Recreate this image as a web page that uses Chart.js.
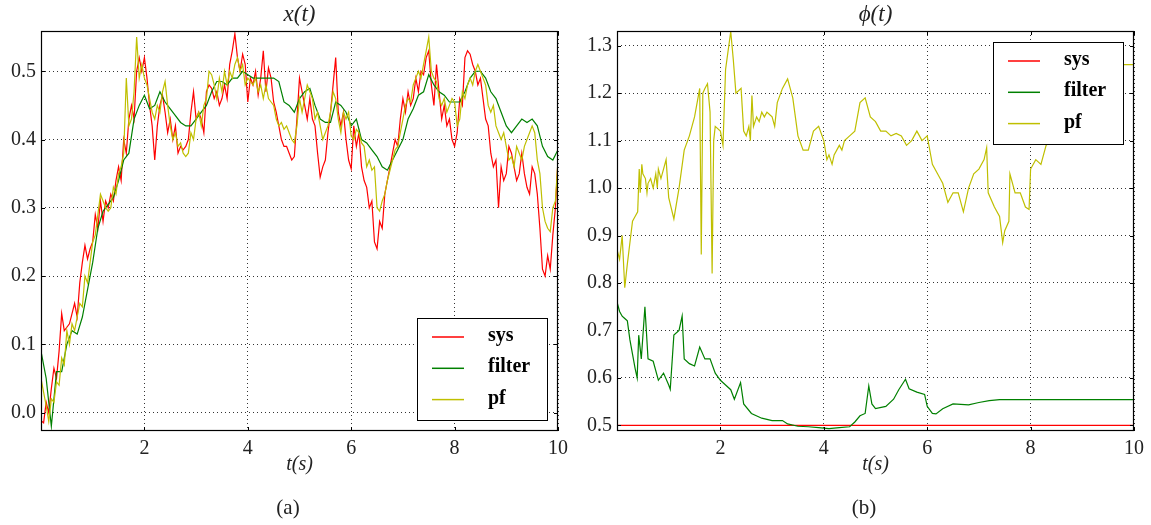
<!DOCTYPE html>
<html>
<head>
<meta charset="utf-8">
<script src="https://cdn.jsdelivr.net/npm/chart.js@4.4.0/dist/chart.umd.min.js"></script>
<style>
  body { margin: 0; background: #fff; }
  #wrap { position: relative; width: 1151px; height: 525px; }
  canvas { position: absolute; top: 0; }
</style>
</head>
<body>
<div id="wrap">
  <canvas id="chartA" width="575" height="525" style="left:0px"></canvas>
  <canvas id="chartB" width="575" height="525" style="left:576px"></canvas>
</div>
<script>
// ---- data: panel (a) x(t); sys and pf every 0.05 s, filter every 0.1 s ----
const sysX = [-0.012, -0.015, 0.015, 0.0, 0.035, 0.065, 0.05, 0.09, 0.145, 0.12,
  0.125, 0.13, 0.145, 0.16, 0.14, 0.19, 0.22, 0.245, 0.225, 0.24,
  0.25, 0.29, 0.27, 0.31, 0.28, 0.31, 0.30, 0.32, 0.31, 0.34,
  0.36, 0.34, 0.40, 0.38, 0.43, 0.45, 0.43, 0.50, 0.52, 0.50,
  0.52, 0.49, 0.45, 0.42, 0.37, 0.42, 0.45, 0.465, 0.44, 0.41,
  0.43, 0.40, 0.42, 0.38, 0.39, 0.385, 0.39, 0.40, 0.44, 0.47,
  0.43, 0.44, 0.43, 0.41, 0.47, 0.48, 0.475, 0.46, 0.47, 0.45,
  0.46, 0.48, 0.46, 0.51, 0.53, 0.555, 0.52, 0.50, 0.525, 0.51,
  0.455, 0.49, 0.48, 0.50, 0.465, 0.49, 0.53, 0.47, 0.505, 0.49,
  0.455, 0.44, 0.42, 0.40, 0.39, 0.39, 0.38, 0.37, 0.375, 0.43,
  0.49, 0.47, 0.45, 0.43, 0.46, 0.43, 0.42, 0.38, 0.345, 0.36,
  0.37, 0.41, 0.44, 0.48, 0.52, 0.44, 0.42, 0.44, 0.40, 0.37,
  0.357, 0.42, 0.39, 0.41, 0.36, 0.34, 0.33, 0.30, 0.31, 0.25,
  0.24, 0.28, 0.27, 0.32, 0.34, 0.36, 0.38, 0.40, 0.39, 0.43,
  0.46, 0.44, 0.47, 0.45, 0.46, 0.49, 0.47, 0.50, 0.495, 0.52,
  0.53, 0.48, 0.45, 0.51, 0.47, 0.43, 0.45, 0.42, 0.43, 0.40,
  0.39, 0.41, 0.46, 0.45, 0.52, 0.53, 0.525, 0.51, 0.50, 0.48,
  0.49, 0.46, 0.43, 0.42, 0.38, 0.36, 0.37, 0.30, 0.36, 0.34,
  0.35, 0.39, 0.38, 0.36, 0.34, 0.35, 0.38, 0.35, 0.33, 0.32,
  0.36, 0.35, 0.32, 0.27, 0.21, 0.20, 0.23, 0.21, 0.26, 0.30,
  0.37];
const pfX = [0.05, 0.03, 0.01, -0.013, 0.02, 0.015, 0.045, 0.04, 0.08, 0.07,
  0.12, 0.10, 0.13, 0.12, 0.14, 0.16, 0.155, 0.20, 0.19, 0.22,
  0.25, 0.26, 0.29, 0.32, 0.31, 0.30, 0.295, 0.30, 0.33, 0.32,
  0.35, 0.36, 0.38, 0.49, 0.42, 0.43, 0.47, 0.55, 0.49, 0.51,
  0.49, 0.48, 0.46, 0.44, 0.43, 0.45, 0.44, 0.47, 0.485, 0.45,
  0.42, 0.40, 0.41, 0.39, 0.395, 0.38, 0.375, 0.38, 0.41, 0.40,
  0.43, 0.44, 0.42, 0.45, 0.46, 0.50, 0.495, 0.48, 0.46, 0.49,
  0.47, 0.50, 0.48, 0.50, 0.49, 0.51, 0.52, 0.50, 0.51, 0.48,
  0.49, 0.485, 0.48, 0.49, 0.47, 0.48, 0.46, 0.48, 0.46, 0.455,
  0.45, 0.43, 0.42, 0.425, 0.415, 0.42, 0.41, 0.40, 0.395, 0.42,
  0.46, 0.44, 0.46, 0.48, 0.47, 0.46, 0.43, 0.44, 0.42, 0.40,
  0.41, 0.42, 0.44, 0.47, 0.46, 0.43, 0.41, 0.44, 0.43, 0.44,
  0.405, 0.40, 0.415, 0.41, 0.395, 0.39, 0.36, 0.37, 0.355, 0.36,
  0.30, 0.295, 0.31, 0.32, 0.34, 0.355, 0.37, 0.385, 0.39, 0.41,
  0.43, 0.45, 0.46, 0.455, 0.48, 0.49, 0.50, 0.49, 0.51, 0.53,
  0.55, 0.50, 0.49, 0.485, 0.46, 0.45, 0.46, 0.44, 0.45, 0.46,
  0.455, 0.42, 0.43, 0.47, 0.46, 0.48, 0.49, 0.48, 0.50, 0.51,
  0.50, 0.49, 0.48, 0.45, 0.44, 0.45, 0.42, 0.41, 0.40, 0.41,
  0.39, 0.37, 0.375, 0.36, 0.39, 0.38, 0.37, 0.39, 0.40, 0.41,
  0.42, 0.41, 0.37, 0.35, 0.30, 0.28, 0.27, 0.265, 0.30, 0.31,
  0.37];
const filterX = [0.09, 0.05, -0.02, 0.06, 0.06, 0.10, 0.12, 0.115, 0.14, 0.18,
  0.22, 0.27, 0.295, 0.305, 0.315, 0.34, 0.37, 0.38, 0.43, 0.45,
  0.465, 0.445, 0.45, 0.47, 0.455, 0.445, 0.435, 0.425, 0.42, 0.42,
  0.43, 0.44, 0.45, 0.47, 0.485, 0.485, 0.48, 0.49, 0.49, 0.50,
  0.495, 0.49, 0.49, 0.49, 0.49, 0.49, 0.485, 0.455, 0.45, 0.44,
  0.46, 0.47, 0.475, 0.45, 0.43, 0.425, 0.425, 0.455, 0.45, 0.44,
  0.42, 0.43, 0.40, 0.395, 0.385, 0.375, 0.36, 0.355, 0.37, 0.385,
  0.40, 0.43, 0.445, 0.465, 0.47, 0.495, 0.48, 0.47, 0.465, 0.455,
  0.455, 0.455, 0.47, 0.49, 0.50, 0.50, 0.49, 0.47, 0.46, 0.44,
  0.42, 0.41, 0.42, 0.43, 0.425, 0.43, 0.42, 0.39, 0.375, 0.37,
  0.385];
const tFine = sysX.map((_, i) => i / 20);
const tCoarse = filterX.map((_, i) => i / 10);

// ---- data: panel (b) phi(t) ----
const tSysPhi = [0, 10];
const sysPhi = [0.5, 0.5];

const tFilterPhi = [0, 0.05, 0.1, 0.15, 0.2, 0.25, 0.3, 0.35, 0.39, 0.42,
  0.47, 0.54, 0.6, 0.7, 0.8, 0.9, 1.0, 1.03, 1.1, 1.2,
  1.26, 1.3, 1.4, 1.5, 1.6, 1.7, 1.8, 1.9, 2.0, 2.1,
  2.2, 2.27, 2.39, 2.45, 2.6, 2.8, 3.0, 3.2, 3.3, 3.5,
  3.7, 3.9, 4.1, 4.3, 4.5, 4.6, 4.7, 4.8, 4.87, 4.93,
  5.0, 5.2, 5.35, 5.45, 5.58, 5.65, 5.8, 5.95, 6.0, 6.1,
  6.17, 6.3, 6.5, 6.8, 7.0, 7.2, 7.4, 10.0];
const filterPhi = [0.76, 0.74, 0.73, 0.725, 0.72, 0.68, 0.65, 0.62, 0.60, 0.69,
  0.64, 0.75, 0.64, 0.635, 0.595, 0.61, 0.585, 0.576, 0.69, 0.70,
  0.73, 0.64, 0.63, 0.625, 0.665, 0.64, 0.64, 0.61, 0.595, 0.585,
  0.575, 0.555, 0.59, 0.545, 0.525, 0.515, 0.51, 0.51, 0.503, 0.498,
  0.497, 0.495, 0.493, 0.495, 0.497, 0.507, 0.52, 0.525, 0.583, 0.545,
  0.535, 0.54, 0.555, 0.575, 0.597, 0.577, 0.57, 0.565, 0.54, 0.525,
  0.524, 0.535, 0.545, 0.543, 0.548, 0.552, 0.554, 0.554];

const tPfPhi = [0, 0.05, 0.1, 0.15, 0.2, 0.3, 0.35, 0.4, 0.43, 0.45,
  0.48, 0.5, 0.55, 0.58, 0.6, 0.65, 0.7, 0.75, 0.78, 0.8,
  0.85, 0.9, 0.95, 1.0, 1.1, 1.2, 1.3, 1.4, 1.5, 1.6,
  1.63, 1.66, 1.7, 1.75, 1.8, 1.84, 1.87, 1.9, 2.0, 2.05,
  2.1, 2.2, 2.25, 2.3, 2.4, 2.45, 2.5, 2.55, 2.58, 2.61,
  2.64, 2.7, 2.75, 2.8, 2.85, 2.9, 2.95, 3.0, 3.05, 3.1,
  3.2, 3.3, 3.4, 3.5, 3.6, 3.7, 3.8, 3.9, 4.0, 4.06,
  4.1, 4.16, 4.2, 4.3, 4.35, 4.4, 4.5, 4.6, 4.7, 4.8,
  4.9, 5.0, 5.1, 5.2, 5.3, 5.4, 5.5, 5.6, 5.7, 5.8,
  5.9, 6.0, 6.1, 6.2, 6.3, 6.4, 6.5, 6.6, 6.7, 6.8,
  6.9, 7.0, 7.1, 7.15, 7.18, 7.3, 7.4, 7.46, 7.5, 7.58,
  7.6, 7.7, 7.8, 7.9, 7.97, 8.0, 8.1, 8.2, 8.3, 8.4,
  8.5, 8.6, 9.0, 9.4, 9.8, 10.0];
const pfPhi = [0.87, 0.85, 0.90, 0.79, 0.84, 0.93, 0.94, 0.95, 1.04, 0.99,
  1.05, 1.03, 1.02, 0.99, 1.01, 1.02, 1.00, 1.03, 1.00, 1.04,
  1.02, 1.04, 1.06, 0.98, 0.935, 1.00, 1.08, 1.11, 1.15, 1.21,
  0.86, 1.20, 1.21, 1.22, 1.16, 0.82, 1.10, 1.13, 1.12, 1.09,
  1.25, 1.33, 1.27, 1.20, 1.21, 1.12, 1.11, 1.13, 1.10, 1.195,
  1.13, 1.15, 1.14, 1.16, 1.15, 1.16, 1.155, 1.15, 1.13, 1.18,
  1.21, 1.23, 1.19, 1.11, 1.08, 1.08, 1.12, 1.13, 1.10, 1.06,
  1.07, 1.05, 1.07, 1.09, 1.08, 1.10, 1.11, 1.12, 1.18, 1.19,
  1.15, 1.14, 1.12, 1.12, 1.11, 1.115, 1.11, 1.09, 1.10, 1.12,
  1.10, 1.11, 1.05, 1.03, 1.01, 0.97, 0.99, 0.99, 0.95, 1.00,
  1.03, 1.04, 1.06, 1.085, 0.99, 0.96, 0.94, 0.885, 0.91, 0.93,
  1.03, 0.99, 0.99, 0.96, 0.955, 1.04, 1.06, 1.05, 1.09, 1.10,
  1.10, 1.12, 1.17, 1.22, 1.26, 1.26];

// ---- ticks ----
const xTicks = [2, 4, 6, 8, 10];
const yTicksA = [0.0, 0.1, 0.2, 0.3, 0.4, 0.5];
const yTicksB = [0.5, 0.6, 0.7, 0.8, 0.9, 1.0, 1.1, 1.2, 1.3];

const SERIF = "'Liberation Serif', 'DejaVu Serif', serif";
const RED = '#ff0000', GREEN = '#008000', YELLOW = '#bfbf00';

function pts(ts, vs) {
  return vs.map((v, i) => ({ x: ts[i], y: v }));
}

function line(ctx, x1, y1, x2, y2) {
  ctx.beginPath();
  ctx.moveTo(x1, y1);
  ctx.lineTo(x2, y2);
  ctx.stroke();
}

// frame, inward ticks, title, legend box and caption
const decor = {
  id: 'decor',
  afterDraw(chart, args, opts) {
    const ctx = chart.ctx, a = chart.chartArea;
    const xs = chart.scales.x, ys = chart.scales.y;
    ctx.save();
    ctx.strokeStyle = '#000';
    ctx.lineWidth = 1;
    xs.ticks.forEach(t => {
      const px = Math.round(xs.getPixelForValue(t.value)) + 0.5;
      line(ctx, px, a.top, px, a.top + 4);
      line(ctx, px, a.bottom, px, a.bottom - 4);
    });
    ys.ticks.forEach(t => {
      const py = Math.round(ys.getPixelForValue(t.value)) + 0.5;
      line(ctx, a.left, py, a.left + 4, py);
      line(ctx, a.right, py, a.right - 4, py);
    });
    ctx.lineWidth = 1.2;
    ctx.strokeRect(a.left + 0.5, a.top + 0.5, a.right - a.left - 1, a.bottom - a.top - 1);

    ctx.fillStyle = '#222';
    ctx.textAlign = 'center';
    ctx.textBaseline = 'middle';
    ctx.font = 'italic 23px ' + SERIF;
    ctx.fillText(opts.title, (a.left + a.right) / 2, 15);
    ctx.font = '21px ' + SERIF;
    ctx.fillText(opts.caption, 288, 508);

    const L = opts.legend;
    ctx.fillStyle = '#fff';
    ctx.fillRect(L.x, L.y, L.w, L.h);
    ctx.strokeStyle = '#000';
    ctx.lineWidth = 1;
    ctx.strokeRect(L.x + 0.5, L.y + 0.5, L.w, L.h);
    chart.data.datasets.forEach((ds, i) => {
      const yy = L.y + 19 + i * 31.3;
      ctx.strokeStyle = ds.borderColor;
      ctx.lineWidth = 1.5;
      line(ctx, L.x + 15, yy, L.x + 47, yy);
      ctx.fillStyle = '#000';
      ctx.font = 'bold 20px ' + SERIF;
      ctx.textAlign = 'left';
      ctx.fillText(ds.label, L.x + 71, yy - 1);
    });
    ctx.restore();
  }
};

function scales(yMin, yMax, yTicks) {
  return {
    x: {
      type: 'linear', min: 0, max: 10,
      afterBuildTicks: s => { s.ticks = xTicks.map(v => ({ value: v })); },
      afterFit: s => { s.height = 49; },
      grid: { color: '#000', lineWidth: 0.8, drawTicks: false },
      border: { display: false, dash: [1, 3] },
      ticks: { color: '#222', padding: 6, autoSkip: false, maxRotation: 0,
        font: { family: SERIF, size: 20 }, callback: v => String(v) },
      title: { display: true, text: 't(s)', color: '#222',
        font: { family: SERIF, size: 20, style: 'italic' }, padding: { top: 0, bottom: 3 } }
    },
    y: {
      type: 'linear', min: yMin, max: yMax,
      afterBuildTicks: s => { s.ticks = yTicks.map(v => ({ value: v })); },
      afterFit: s => { s.width = 41; },
      grid: { color: '#000', lineWidth: 0.8, drawTicks: false },
      border: { display: false, dash: [1, 3] },
      ticks: { color: '#222', padding: 5, autoSkip: false,
        font: { family: SERIF, size: 20 }, callback: v => v.toFixed(1) }
    }
  };
}

function makeChart(id, sets, yMin, yMax, yTicks, title, caption, legend) {
  return new Chart(document.getElementById(id), {
    type: 'line',
    data: {
      datasets: [
        { label: 'sys', data: sets[0], borderColor: RED, borderWidth: 1.2, order: 2 },
        { label: 'filter', data: sets[1], borderColor: GREEN, borderWidth: 1.2, order: 1 },
        { label: 'pf', data: sets[2], borderColor: YELLOW, borderWidth: 1.2, order: 0 }
      ]
    },
    options: {
      responsive: false,
      animation: false,
      devicePixelRatio: 1,
      elements: { point: { radius: 0 }, line: { tension: 0 } },
      layout: { padding: { left: 0, top: 31, right: 17, bottom: 45 } },
      scales: scales(yMin, yMax, yTicks),
      plugins: {
        legend: { display: false },
        tooltip: { enabled: false },
        decor: { title: title, caption: caption, legend: legend }
      }
    },
    plugins: [decor]
  });
}

makeChart('chartA',
  [pts(tFine, sysX), pts(tCoarse, filterX), pts(tFine, pfX)],
  -0.027, 0.559, yTicksA, 'x(t)', '(a)', { x: 417, y: 318, w: 130, h: 102 });

makeChart('chartB',
  [pts(tSysPhi, sysPhi), pts(tFilterPhi, filterPhi), pts(tPfPhi, pfPhi)],
  0.488, 1.331, yTicksB, '\u03d5(t)', '(b)', { x: 417, y: 42, w: 130, h: 102 });
</script>
</body>
</html>
